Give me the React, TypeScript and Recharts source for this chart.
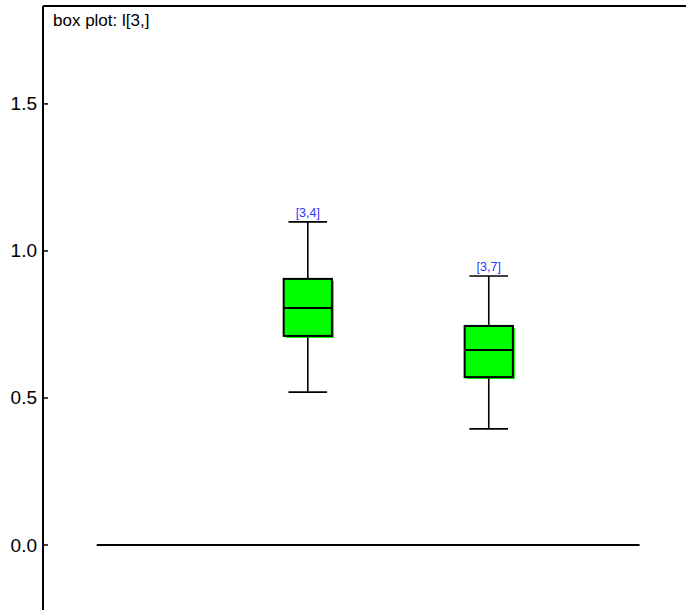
import { ComposedChart, XAxis, YAxis, Scatter, ReferenceLine, ReferenceArea } from "recharts";

// box positions on the x scale and their five-number summaries
const positions = [4, 7];
const boxLabels = ["[3,4]", "[3,7]"];
const whiskerLow = [0.52, 0.395];
const quartile1 = [0.711, 0.571];
const medians = [0.806, 0.663];
const quartile3 = [0.905, 0.745];
const whiskerHigh = [1.099, 0.915];

const yTicks = [0, 0.5, 1, 1.5];
const refLineX = [0.5, 9.5];
const yDomain = [-0.221, 1.833];

const boxes = positions.map((x, i) => ({
  x,
  label: boxLabels[i],
  lo: whiskerLow[i],
  q1: quartile1[i],
  med: medians[i],
  q3: quartile3[i],
  hi: whiskerHigh[i],
}));

const BOX_HALF = 0.4;
const CAP_HALF = 0.32;
const FONT = "'Liberation Sans', Arial, sans-serif";

function YTick(props: any) {
  const { x, y, payload } = props;
  return (
    <g>
      <line x1={x + 6} x2={x + 11} y1={y} y2={y} stroke="#000" strokeWidth={1.5} />
      <text x={x} y={y} dy={6.5} textAnchor="end" fontSize={19} fontFamily={FONT} fill="#000">
        {Number(payload.value).toFixed(1)}
      </text>
    </g>
  );
}

function BoxShape(props: any) {
  const { x, y, width, height } = props;
  return (
    <g>
      <rect x={x + 2} y={y + 2} width={width} height={height} fill="#00ff00" />
      <rect x={x} y={y} width={width} height={height} fill="#00ff00" stroke="#000" strokeWidth={2} />
    </g>
  );
}

export default function App() {
  return (
    <div style={{ position: "absolute", left: 0, top: 0, width: 686, height: 610 }}>
      <ComposedChart width={686} height={610} data={boxes} margin={{ top: 6, right: 0, bottom: 0, left: 0 }}>
        <XAxis
          xAxisId="t"
          type="number"
          dataKey="x"
          orientation="top"
          domain={[-0.39, 10.27]}
          allowDataOverflow
          height={0}
          tick={false}
          tickLine={false}
          axisLine={false}
        />
        <YAxis
          type="number"
          domain={yDomain}
          ticks={yTicks}
          allowDataOverflow
          width={43}
          tickSize={0}
          tickMargin={6}
          tickLine={false}
          axisLine={{ stroke: "#000", strokeWidth: 2 }}
          tick={<YTick />}
        />
        <ReferenceLine xAxisId="t" y={yDomain[1]} stroke="#000" strokeWidth={2} />
        <ReferenceLine
          xAxisId="t"
          segment={[{ x: refLineX[0], y: 0 }, { x: refLineX[1], y: 0 }]}
          stroke="#000"
          strokeWidth={1.8}
        />
        {boxes.map((b) => (
          <ReferenceLine
            key={"wl" + b.x}
            xAxisId="t"
            segment={[{ x: b.x, y: b.lo }, { x: b.x, y: b.q1 }]}
            stroke="#000"
            strokeWidth={1.6}
          />
        ))}
        {boxes.map((b) => (
          <ReferenceLine
            key={"wh" + b.x}
            xAxisId="t"
            segment={[{ x: b.x, y: b.q3 }, { x: b.x, y: b.hi }]}
            stroke="#000"
            strokeWidth={1.6}
          />
        ))}
        {boxes.map((b) => (
          <ReferenceLine
            key={"cl" + b.x}
            xAxisId="t"
            segment={[{ x: b.x - CAP_HALF, y: b.lo }, { x: b.x + CAP_HALF, y: b.lo }]}
            stroke="#000"
            strokeWidth={1.6}
          />
        ))}
        {boxes.map((b) => (
          <ReferenceLine
            key={"ch" + b.x}
            xAxisId="t"
            segment={[{ x: b.x - CAP_HALF, y: b.hi }, { x: b.x + CAP_HALF, y: b.hi }]}
            stroke="#000"
            strokeWidth={1.6}
            label={{ value: b.label, position: "top", fill: "#3333ff", fontSize: 12.5, fontFamily: FONT, offset: 5 }}
          />
        ))}
        {boxes.map((b) => (
          <ReferenceArea
            key={"b" + b.x}
            xAxisId="t"
            x1={b.x - BOX_HALF}
            x2={b.x + BOX_HALF}
            y1={b.q1}
            y2={b.q3}
            shape={<BoxShape />}
          />
        ))}
        {boxes.map((b) => (
          <ReferenceLine
            key={"m" + b.x}
            xAxisId="t"
            segment={[{ x: b.x - BOX_HALF, y: b.med }, { x: b.x + BOX_HALF, y: b.med }]}
            stroke="#000"
            strokeWidth={2}
          />
        ))}
        <Scatter xAxisId="t" dataKey="med" shape={() => <g />} isAnimationActive={false} />
      </ComposedChart>
      <div
        style={{
          position: "absolute",
          left: 53,
          top: 11,
          fontFamily: FONT,
          fontSize: 17,
          lineHeight: "20px",
          color: "#000",
          whiteSpace: "nowrap",
        }}
      >
        box plot: l[3,]
      </div>
    </div>
  );
}
